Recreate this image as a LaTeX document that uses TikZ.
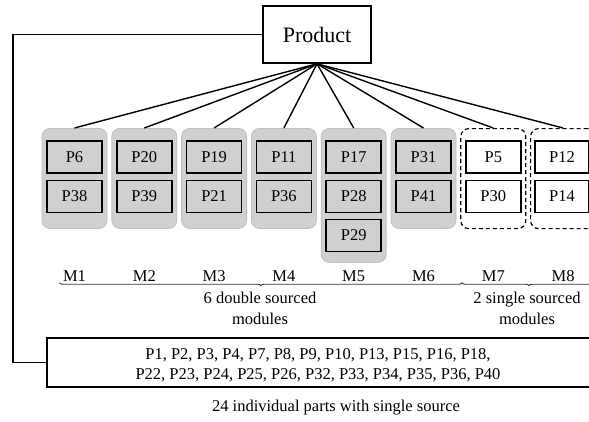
\documentclass[tikz,border=0pt]{standalone}
\usepackage{fontspec}
\setmainfont{Liberation Serif}
\usetikzlibrary{decorations.pathreplacing}
\definecolor{modfill}{RGB}{208,208,208}
\definecolor{modedge}{RGB}{192,192,192}
\begin{document}
\begin{tikzpicture}[x=1pt,y=1pt,
  module/.style={draw=modedge, line width=0.8pt, fill=modfill, rounded corners=8pt,
    minimum width=65pt, minimum height=100pt, anchor=north, inner sep=0pt},
  single/.style={draw=black, dash pattern=on 4pt off 3pt, line width=1.2pt, rounded corners=8pt,
    minimum width=65pt, minimum height=100pt, anchor=north, inner sep=0pt},
  part/.style={draw=black, line width=1.5pt, fill=modfill, minimum width=55pt, minimum height=32pt,
    inner sep=0pt, font=\fontsize{16.5}{18}\selectfont},
  spart/.style={part, fill=white},
  link/.style={line width=1.4pt},
  mlabel/.style={font=\fontsize{16.5}{18}\selectfont, inner sep=0pt},
  note/.style={font=\fontsize{16.5}{21}\selectfont, align=center, inner sep=0pt},
  bracket/.style={decorate, decoration={brace, mirror, amplitude=3pt}, line width=0.9pt, black!80}
]
\useasboundingbox (0,0) rectangle (589,-421);
\clip (0,0) rectangle (589,-421);

% product
\node[draw, line width=1.6pt, minimum width=108pt, minimum height=57pt, inner sep=0pt,
  font=\fontsize{22}{24}\selectfont] (prod) at (317,-34.5) {Product};

% double sourced modules
\node[module] (m1) at (74.5,-128) {};
\node[module] (m2) at (144.3,-128) {};
\node[module] (m3) at (214.1,-128) {};
\node[module] (m4) at (283.9,-128) {};
\node[module, minimum height=134pt] (m5) at (353.7,-128) {};
\node[module] (m6) at (423.5,-128) {};
% single sourced modules
\node[single] (m7) at (493.3,-128) {};
\node[single] (m8) at (563.1,-128) {};

% parts
\node[part] (p6)  at (74.5,-157) {P6};
\node[part] (p38) at (74.5,-196.5) {P38};
\node[part] (p20) at (144.3,-157) {P20};
\node[part] (p39) at (144.3,-196.5) {P39};
\node[part] (p19) at (214.1,-157) {P19};
\node[part] (p21) at (214.1,-196.5) {P21};
\node[part] (p11) at (283.9,-157) {P11};
\node[part] (p36) at (283.9,-196.5) {P36};
\node[part] (p17) at (353.7,-157) {P17};
\node[part] (p28) at (353.7,-196.5) {P28};
\node[part] (p29) at (353.7,-235.5) {P29};
\node[part] (p31) at (423.5,-157) {P31};
\node[part] (p41) at (423.5,-196.5) {P41};
\node[spart] (p5)  at (493.3,-157) {P5};
\node[spart] (p30) at (493.3,-196.5) {P30};
\node[spart, minimum width=54pt] (p12) at (562,-157) {P12};
\node[spart, minimum width=54pt] (p14) at (562,-196.5) {P14};

% fan
\foreach \i in {1,...,8} \draw[link] (prod.south) -- (m\i.north);

% module labels
\node[mlabel] (l1) at (74.5,-276.5) {M1};
\node[mlabel] (l2) at (144.3,-276.5) {M2};
\node[mlabel] (l3) at (214.1,-276.5) {M3};
\node[mlabel] (l4) at (283.9,-276.5) {M4};
\node[mlabel] (l5) at (353.7,-276.5) {M5};
\node[mlabel] (l6) at (423.5,-276.5) {M6};
\node[mlabel] (l7) at (493.3,-276.5) {M7};
\node[mlabel] (l8) at (563.1,-276.5) {M8};

% brackets
\coordinate (b1s) at (59.5,-282.7);
\coordinate (b1e) at (462,-282.7);
\coordinate (b2e) at (596,-282.7);
\draw[bracket] (b1s) -- (b1e);
\draw[bracket] (b1e) -- (b2e);
\node[note] (t1) at (260,-308.6) {6 double sourced\\modules};
\node[note] (t2) at (527,-308.6) {2 single sourced\\modules};

% individual parts
\node[draw, line width=1.6pt, minimum width=553pt, minimum height=49pt, inner sep=0pt] (indiv) at (323.5,-362.5) {};
\node[note, font=\fontsize{16.5}{20}\selectfont] (indivtext) at (318,-365.5)
  {P1, P2, P3, P4, P7, P8, P9, P10, P13, P15, P16, P18,\\P22, P23, P24, P25, P26, P32, P33, P34, P35, P36, P40};
\node[note] (cap) at (336,-407.5) {24 individual parts with single source};

% connector product -> individual parts
\coordinate (corner) at (13,-34.5);
\draw[link] (prod.west) -- (corner) |- (indiv.west);
\end{tikzpicture}
\end{document}
